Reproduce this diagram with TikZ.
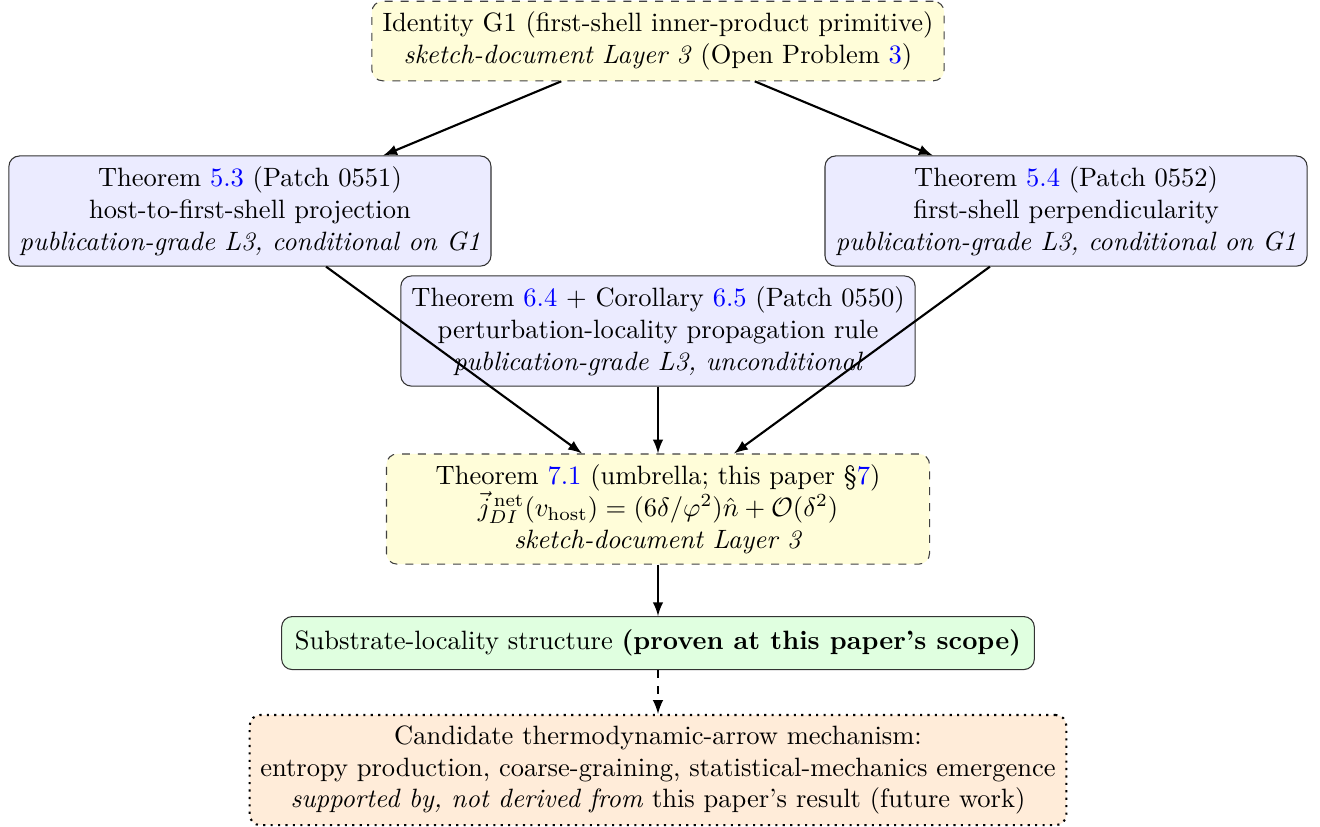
\documentclass[tikz,border=0pt]{standalone}
\usepackage{amsmath}
\usetikzlibrary{positioning}
\tikzset{
	conj/.style={draw=black!75, dashed, rectangle, rounded corners=4pt, inner sep=4pt, align=center, fill=yellow!15},
	thm/.style={draw=black!80, rectangle, rounded corners=4pt, inner sep=4pt, align=center, fill=blue!8},
	proven/.style={draw=black!80, rectangle, rounded corners=4pt, inner sep=5pt, align=center, fill=green!12},
	% candidate mechanism, not derived here
	future/.style={draw=black, thick, dotted, rectangle, rounded corners=4pt, inner sep=4pt, align=center, fill=orange!15},
}
\newcommand{\lnk}[1]{\textcolor{blue}{#1}}

\begin{document}
\begin{tikzpicture}
	\useasboundingbox (-8.724,0.544) rectangle (8.777,-10.408);
	
	\node (g1) [conj] {Identity G1 (first-shell inner-product primitive)\\ \textit{sketch-document Layer 3} (Open Problem \lnk{3})};
	
	\node (t53) [thm, below of=g1, xshift=-5.41cm, yshift=-1.254cm] {Theorem \lnk{5.3} (Patch 0551)\\ host-to-first-shell projection\\ \textit{publication-grade L3, conditional on G1}};
	\node (t54) [thm, below of=g1, xshift=5.41cm, yshift=-1.254cm] {Theorem \lnk{5.4} (Patch 0552)\\ first-shell perpendicularity\\ \textit{publication-grade L3, conditional on G1}};
	\node (t64) [thm, below of=g1, yshift=-2.845cm] {Theorem \lnk{6.4} $+$ Corollary \lnk{6.5} (Patch 0550)\\ perturbation-locality propagation rule\\ \textit{publication-grade L3, unconditional}};
	
	\node (t71) [conj, minimum width=7.2cm, below of=t64, yshift=-1.36cm] {Theorem \lnk{7.1} (umbrella; this paper \S\lnk{7})\\ $\vec{j}^{\,\mathrm{net}}_{DI}(v_{\mathrm{host}}) = (6\delta/\varphi^2)\hat{n} + \mathcal{O}(\delta^2)$\\ \textit{sketch-document Layer 3}};
	\node (sub) [proven, below of=t71, yshift=-0.777cm] {Substrate-locality structure \textbf{(proven at this paper's scope)}};
	\node (cand) [future, below of=sub, yshift=-0.684cm] {Candidate thermodynamic-arrow mechanism:\\ entropy production, coarse-graining, statistical-mechanics emergence\\ \textit{supported by, not derived from} this paper's result (future work)};
	
	\begin{scope}[thick, black, ->, >=latex]
		\draw (g1) -- (t53);
		\draw (g1) -- (t54);
		
		\draw (t53) -- (t71);
		\draw (t54) -- (t71);
		\draw (t64) -- (t71);
		
		\draw (t71) -- (sub);
		\draw[dashed] (sub) -- (cand);
	\end{scope}
	
\end{tikzpicture}
\end{document}
